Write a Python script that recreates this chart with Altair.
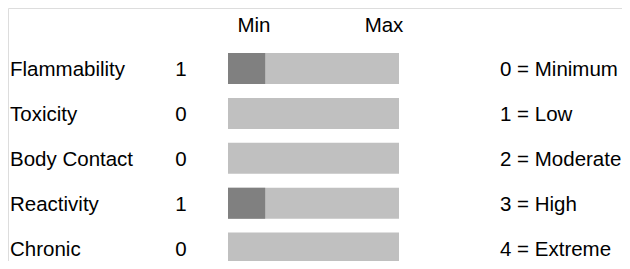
import altair as alt
import pandas as pd

categories = ["Flammability", "Toxicity", "Body Contact", "Reactivity", "Chronic"]
values = [1, 0, 0, 1, 0]
level_labels = ["0 = Minimum", "1 = Low", "2 = Moderate", "3 = High", "4 = Extreme"]
header = ["Min", "Max"]
TRACK_END = 4.6  # length of the grey track in level units, as drawn

df = pd.DataFrame({"category": categories, "value": values, "legend": level_labels})
hdr = pd.DataFrame({"label": header})

FONT = "Liberation Sans"
FS = 20.5
DY = 7.5

yscale = alt.Scale(domain=categories, range=[38.05, 262.55], paddingInner=0.3096, paddingOuter=0.1548)
y = alt.Y("category:N", sort=categories, scale=yscale, axis=None)
xs = alt.Scale(domain=[0, TRACK_END], range=[220, 391], nice=False, zero=False)

base = alt.Chart(df)

track = base.mark_bar(color="#C0C0C0", cornerRadius=0).encode(
    y=y,
    x=alt.X(datum=0, scale=xs, axis=None),
    x2=alt.X2(datum=TRACK_END),
)
level = base.mark_bar(color="#808080", cornerRadius=0).encode(
    y=y,
    x=alt.X("value:Q", scale=xs, axis=None),
    x2=alt.X2(datum=0),
)
txt = dict(baseline="alphabetic", dy=DY, font=FONT, fontSize=FS, color="#000000")
names = base.mark_text(align="left", **txt).encode(
    y=y, x=alt.value(2), text="category:N"
)
nums = base.mark_text(align="center", **txt).encode(
    y=y, x=alt.value(173), text="value:Q"
)
legend = base.mark_text(align="left", **txt).encode(
    y=y, x=alt.value(492), text="legend:N"
)
heads = alt.Chart(hdr).mark_text(align="center", baseline="alphabetic", font=FONT, fontSize=FS, color="#000000").encode(
    x=alt.X("label:N", sort=header, scale=alt.Scale(type="point", domain=header, range=[246, 376], padding=0), axis=None),
    y=alt.value(24),
    text="label:N",
)

chart = (
    alt.layer(track, level, names, nums, legend, heads)
    .resolve_scale(x="independent")
    .properties(width=614, height=253, autosize=alt.AutoSizeParams(type="none"), padding=0)
    .configure_view(stroke="transparent", strokeWidth=0)
    .configure(background="white")
)

chart.save("out.html", embed_options={"renderer": "svg", "actions": False})
